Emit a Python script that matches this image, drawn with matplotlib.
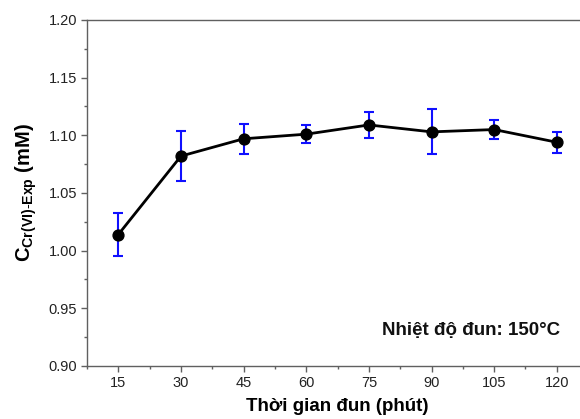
import matplotlib
matplotlib.use("Agg")
import matplotlib.pyplot as plt
from matplotlib.ticker import MultipleLocator

plt.rcParams['font.family'] = ['Liberation Sans', 'DejaVu Sans']
plt.rcParams['mathtext.fontset'] = 'custom'
plt.rcParams['mathtext.rm'] = 'Liberation Sans'
plt.rcParams['mathtext.bf'] = 'Liberation Sans:bold'

time_min = [15, 30, 45, 60, 75, 90, 105, 120]
conc = [1.014, 1.082, 1.097, 1.101, 1.109, 1.103, 1.105, 1.094]
err = [0.019, 0.022, 0.013, 0.008, 0.0115, 0.0195, 0.008, 0.0093]

fig = plt.figure(figsize=(5.8, 4.19), dpi=100)
ax = fig.add_axes([0.15, 0.1265, 0.864, 0.8258])

ax.errorbar(time_min, conc, yerr=err, fmt='none', ecolor='#1010ff',
            elinewidth=1.5, capsize=3.3, capthick=1.5, zorder=2)
ax.plot(time_min, conc, color='black', lw=2.0, marker='o', ms=7.8,
        mfc='black', mec='black', zorder=3)

ax.set_xlim(7.5, 127.5)
ax.set_ylim(0.90, 1.20)
ax.xaxis.set_major_locator(MultipleLocator(15))
ax.xaxis.set_minor_locator(MultipleLocator(7.5))
ax.yaxis.set_major_locator(MultipleLocator(0.05))
ax.yaxis.set_minor_locator(MultipleLocator(0.025))
ax.yaxis.set_major_formatter(plt.FuncFormatter(lambda v, p: f"{v:.2f}"))

for s in ax.spines.values():
    s.set_color('#606060')
    s.set_linewidth(1.0)
ax.tick_params(which='major', direction='out', length=4.5, width=1,
               color='#606060', labelsize=10.5, labelcolor='#222222', pad=2.5)
ax.tick_params(which='minor', direction='out', length=2.5, width=1,
               color='#606060')
ax.tick_params(top=False, right=False, which='both')

ax.set_xlabel('Thời gian đun (phút)', fontsize=13.5, fontweight='bold', labelpad=6)
ax.set_ylabel(r'C$_{\mathbf{Cr(VI)\text{-}Exp}}$ (mM)', fontsize=14.5,
              fontweight='bold')
ax.yaxis.set_label_coords(-0.096, 0.5)

ax.text(473 / 501, 0.09, 'Nhiệt độ đun: 150°C', transform=ax.transAxes,
        ha='right', va='baseline', fontsize=13.5, fontweight='bold', color='#111111')

fig.savefig('out.png', dpi=100)
